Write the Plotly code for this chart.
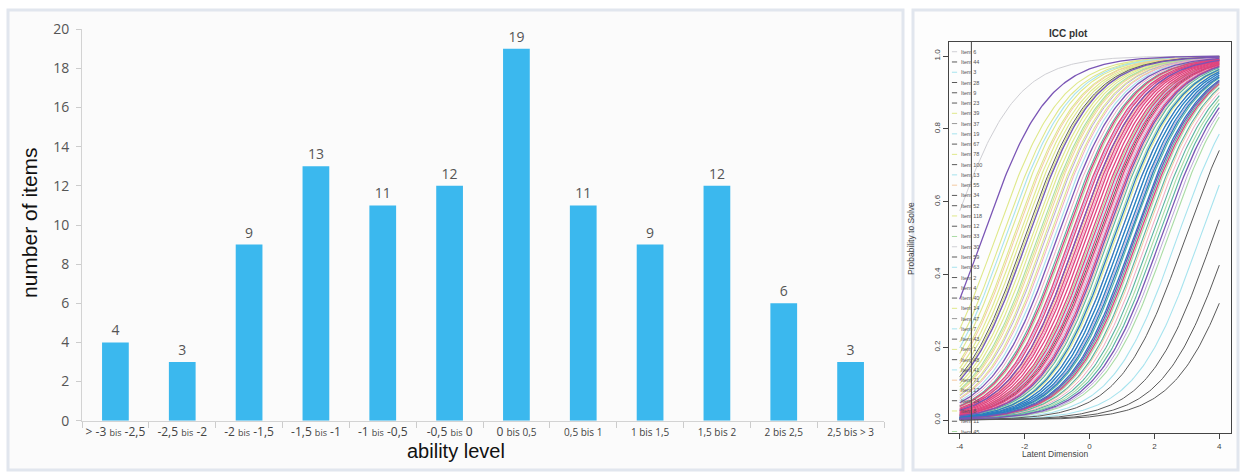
import numpy as np
import plotly.graph_objects as go

# ---------------- data ----------------
ability_levels = ["> -3 bis -2,5", "-2,5 bis -2", "-2 bis -1,5", "-1,5 bis -1",
                  "-1 bis -0,5", "-0,5 bis 0", "0 bis 0,5", "0,5 bis 1",
                  "1 bis 1,5", "1,5 bis 2", "2 bis 2,5", "2,5 bis > 3"]
item_counts = [4, 3, 9, 13, 11, 12, 19, 11, 9, 12, 6, 3]
y_ticks = [0, 2, 4, 6, 8, 10, 12, 14, 16, 18, 20]

# item difficulties (ICC plot), grouped by curve colour
icc_light_gray = [-4.3]
icc_yellow = [-2.9, -2.7, -2.5, -2.35, -2.2, -2.1, -1.95, -1.8, -1.7, -1.55, -1.4, -1.25, 0.8]
icc_light_cyan = [-2.6, -1.9, -1.1, 0.15, 1.0, 2.7, 3.4]
icc_peach = [-2.3, -1.5, -0.35, 0.55, 1.7]
icc_light_green = [-1.6, -0.7, 0.05, 0.7, 1.55, 2.0, 2.4]
icc_lavender = [-1.35, -0.55, 0.4, 1.15, 2.3]
icc_light_pink = [-1.2, -0.9, -0.25, 0.35, 0.9, 1.8]
icc_teal = [-0.8, 0.6, 1.25, 1.45, 1.65, 1.9, 2.1]
icc_dark_gray = [-2.0, 0.25, 2.95, 3.8, 4.3, 4.75]
icc_pink = [-0.75, -0.6, -0.5, -0.4, -0.3, -0.2, -0.1, 0.0, 0.1, 0.2, 0.3, 0.45, 1.5]
icc_blue = [0.75, 0.9, 1.0, 1.1, 1.2, 1.35]
icc_purple = [-3.3, -1.9, -1.0, -0.4, 0.5, 1.4, 2.2]

legend_items = ["Item 6", "Item 44", "Item 3", "Item 28", "Item 9", "Item 23", "Item 39",
                "Item 37", "Item 19", "Item 67", "Item 78", "Item 100", "Item 13", "Item 55",
                "Item 34", "Item 52", "Item 118", "Item 12", "Item 33", "Item 30", "Item 59",
                "Item 63", "Item 2", "Item 4", "Item 40", "Item 14", "Item 47", "Item 7",
                "Item 43", "Item 1", "Item 48", "Item 41", "Item 71", "Item 17", "Item 24",
                "Item 8", "Item 11", "Item 45"]
icc_x_ticks = [-4, -2, 0, 2, 4]
icc_y_ticks = [0.0, 0.2, 0.4, 0.6, 0.8, 1.0]

# ---------------- helpers ----------------
W, H = 1242, 473
def px(x):
    return x / W
def py(y):
    return 1 - y / H

SMALL = "<span style='font-size:9px'>%s</span>"
SMALL2 = "<span style='font-size:10px'>%s</span>"

def fmt_label(lbl, i):
    if i < 6:
        a, b = lbl.split(" bis ")
        return a + " " + (SMALL % "bis") + " " + b
    if i == 6:
        a, b = lbl.split(" ", 1)
        return a + " " + (SMALL2 % b)
    return SMALL2 % lbl

x_labels = [fmt_label(l, i) for i, l in enumerate(ability_levels)]

fig = go.Figure()

# ---------------- panels ----------------
shapes = [
    dict(type="rect", xref="paper", yref="paper", x0=px(8), x1=px(903), y0=py(470), y1=py(10),
         fillcolor="#fbfbfb", line=dict(color="#e1e6ee", width=3), layer="below"),
    dict(type="rect", xref="paper", yref="paper", x0=px(913), x1=px(1238), y0=py(470), y1=py(10),
         fillcolor="#fdfdfd", line=dict(color="#e1e6ee", width=3), layer="below"),
]

# ---------------- bar chart ----------------
fig.add_trace(go.Bar(
    x=x_labels, y=item_counts, marker=dict(color="#3bb8ee", line=dict(width=0)),
    width=0.4, text=item_counts, textposition="outside",
    textfont=dict(family="Open Sans", size=14, color="#555555"),
    cliponaxis=False, xaxis="x", yaxis="y", showlegend=False, hoverinfo="x+y"))

# ---------------- ICC curves ----------------
theta = np.linspace(-4, 4, 161)
groups = [
    (icc_light_gray, "#cfcfd4", 1.0),
    (icc_yellow, "#dfe88a", 1.1),
    (icc_light_cyan, "#a6e3ee", 1.1),
    (icc_peach, "#f3c9a0", 1.0),
    (icc_light_green, "#a9dca4", 1.1),
    (icc_lavender, "#bba7d8", 1.0),
    (icc_light_pink, "#f2a9c4", 1.0),
    (icc_teal, "#58b3a0", 1.1),
    (icc_dark_gray, "#5a5a5a", 1.0),
    (icc_pink, "#e0447e", 1.3),
    (icc_blue, "#2a7dc0", 1.3),
    (icc_purple, "#7a55b5", 1.3),
]
for diffs, col, lw in groups:
    for b in diffs:
        p = 1.0 / (1.0 + np.exp(-(theta - b)))
        fig.add_trace(go.Scatter(x=theta, y=p, mode="lines", line=dict(color=col, width=lw),
                                 xaxis="x2", yaxis="y2", showlegend=False, hoverinfo="skip"))

# ---------------- ICC legend ----------------
legend_cols = ["#cfcfd4", "#5a5a5a", "#a6e3ee", "#5a5a5a", "#5a5a5a", "#5a5a5a", "#dfe88a",
               "#999999", "#a6e3ee", "#5a5a5a", "#dfe88a", "#5a5a5a", "#a6e3ee", "#f3c9a0",
               "#5a5a5a", "#5a5a5a", "#dfe88a", "#5a5a5a", "#a9dca4"]
annotations = []
y_top = 1.0118
y_step = 0.0282
for i, name in enumerate(legend_items):
    yy = y_top - i * y_step
    col = legend_cols[i % len(legend_cols)]
    shapes.append(dict(type="line", xref="x2", yref="y2", x0=-4.24, x1=-4.08, y0=yy, y1=yy,
                       line=dict(color=col, width=1)))
    annotations.append(dict(x=-4.03, y=yy, xref="x2", yref="y2", text=name, showarrow=False,
                            xanchor="left", yanchor="middle",
                            font=dict(family="Liberation Sans", size=5.5, color="#555555")))
shapes.append(dict(type="line", xref="x2", yref="y2", x0=-3.64, x1=-3.64, y0=-0.0357, y1=1.0385,
                   line=dict(color="#444444", width=1)))

# ---------------- titles ----------------
annotations += [
    dict(x=px(29), y=py(223), xref="paper", yref="paper", text="number of items", textangle=-90,
         xanchor="center", yanchor="middle",
         showarrow=False, font=dict(family="Liberation Sans", size=21, color="#111111")),
    dict(x=px(456), y=py(464), xref="paper", yref="paper", text="ability level",
         showarrow=False, font=dict(family="Liberation Sans", size=20, color="#111111")),
    dict(x=px(1090), y=py(26), xref="paper", yref="paper", text="<b>ICC plot</b>",
         showarrow=False, font=dict(family="Liberation Sans", size=10, color="#333333")),
    dict(x=px(1090), y=py(461), xref="paper", yref="paper", text="Latent Dimension",
         showarrow=False, font=dict(family="Liberation Sans", size=8.5, color="#444444")),
    dict(x=px(918), y=py(238), xref="paper", yref="paper", text="Probability to Solve", textangle=-90,
         showarrow=False, font=dict(family="Liberation Sans", size=8.5, color="#444444")),
]

fig.update_layout(
    width=W, height=H, margin=dict(l=0, r=0, t=0, b=0, autoexpand=False),
    paper_bgcolor="white", plot_bgcolor="rgba(0,0,0,0)",
    bargap=0.6,
    xaxis=dict(domain=[px(82), px(884)], anchor="y", type="category", automargin=False,
               showline=True, linecolor="#d3d3d3", linewidth=1, tickangle=0,
               ticks="outside", ticklen=6, tickcolor="#cccccc", tickson="boundaries",
               tickfont=dict(family="Open Sans", size=12, color="#444444"),
               showgrid=False, zeroline=False, fixedrange=True),
    yaxis=dict(domain=[py(420.7), py(29.3)], anchor="x", range=[0, 20], automargin=False,
               tickvals=y_ticks, showline=True, linecolor="#d3d3d3", linewidth=1,
               ticks="outside", ticklen=5, tickcolor="#cccccc", ticklabelstandoff=4,
               tickfont=dict(family="Open Sans", size=14, color="#555555"),
               showgrid=False, zeroline=False),
    xaxis2=dict(domain=[px(949), px(1231)], anchor="y2", range=[-4.33, 4.36], automargin=False,
                tickvals=icc_x_ticks, ticktext=[str(v) for v in icc_x_ticks],
                showline=True, mirror=True, linecolor="#444444", linewidth=1,
                ticks="outside", ticklen=5, tickcolor="#444444",
                tickfont=dict(family="Liberation Sans", size=8, color="#444444"),
                showgrid=False, zeroline=False),
    yaxis2=dict(domain=[py(433), py(42)], anchor="x2", range=[-0.0357, 1.0385], automargin=False,
                tickvals=icc_y_ticks, ticktext=["%.1f" % v for v in icc_y_ticks], tickangle=-90,
                showline=True, mirror=True, linecolor="#444444", linewidth=1,
                ticks="outside", ticklen=5, tickcolor="#444444",
                tickfont=dict(family="Liberation Sans", size=8, color="#444444"),
                showgrid=False, zeroline=False),
    shapes=shapes, annotations=annotations,
)

fig.write_html("out.html")
